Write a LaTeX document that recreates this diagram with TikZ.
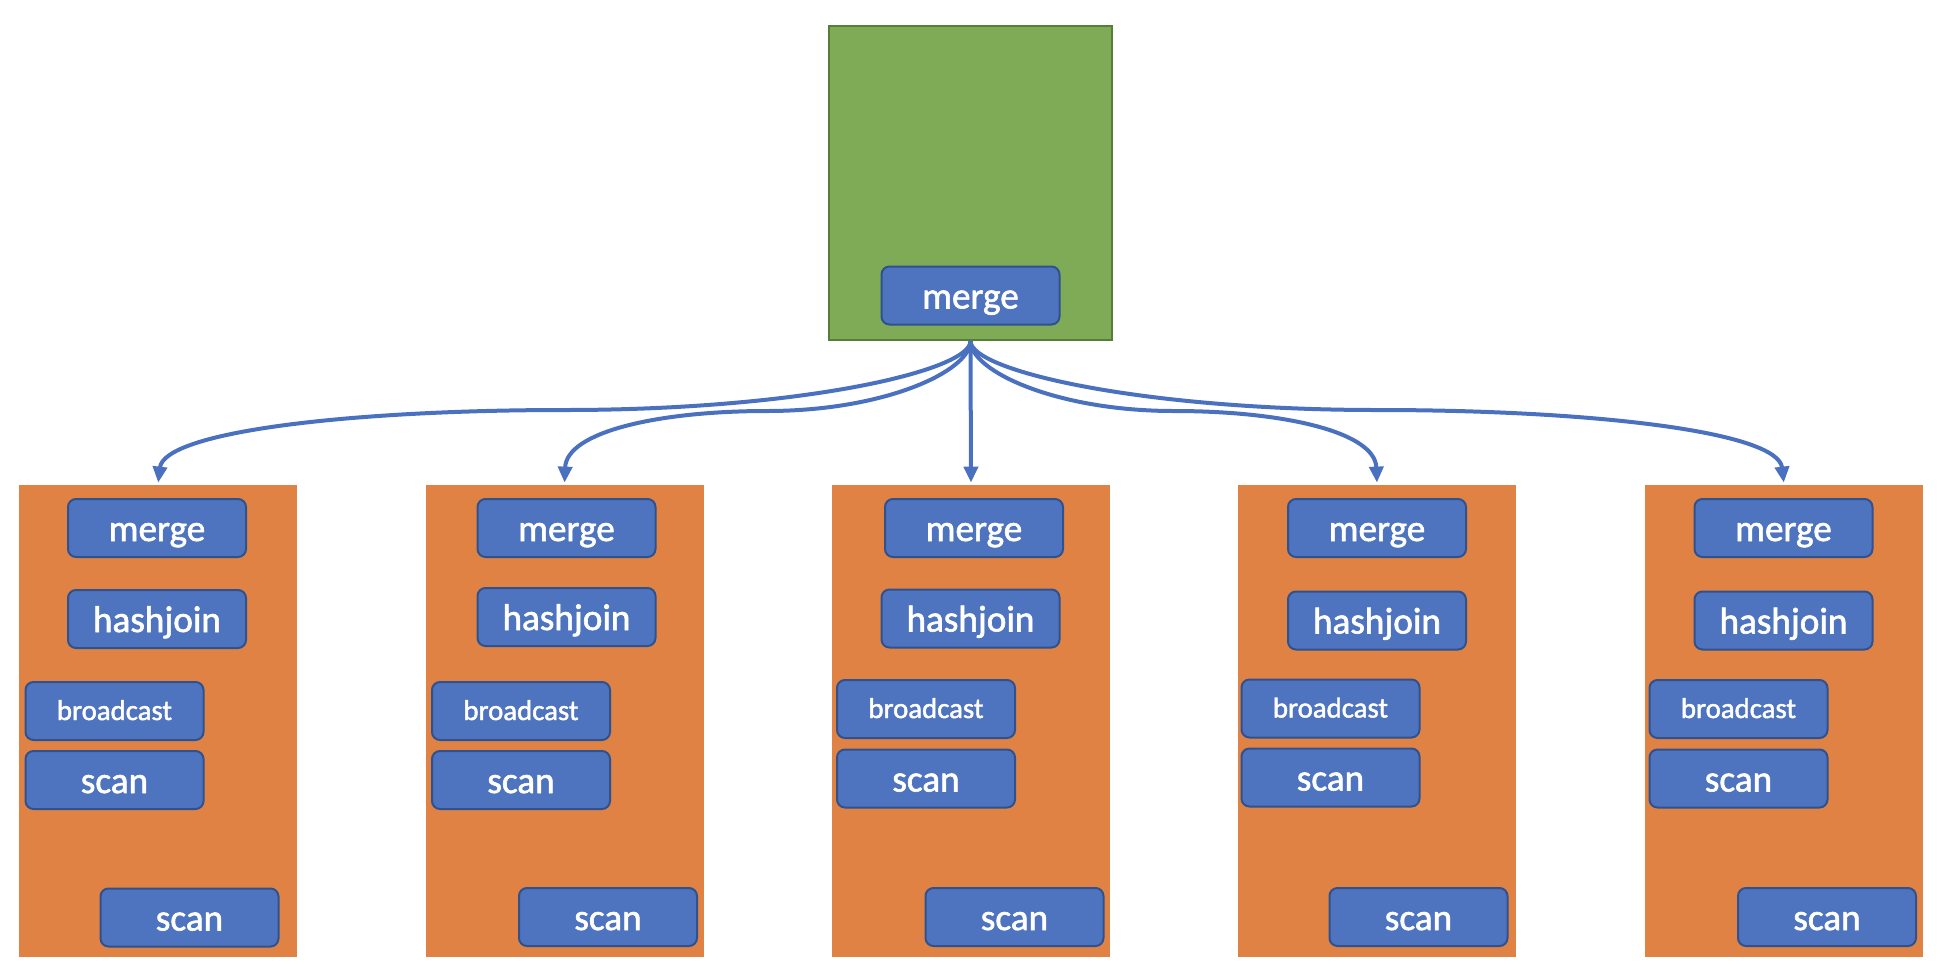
\documentclass[tikz,border=0pt]{standalone}
\usepackage{fontspec}
\setmainfont{Carlito}
\newfontfamily\opfont{Carlito}[FakeBold=1.6]
\usetikzlibrary{arrows.meta}
\definecolor{opblue}{HTML}{4F74BF}
\definecolor{opborder}{HTML}{2F528F}
\definecolor{workerfill}{HTML}{DF8244}
\definecolor{coordfill}{HTML}{7FAA56}
\definecolor{coordborder}{HTML}{557F36}
\definecolor{linkblue}{HTML}{4A70C0}
\begin{document}
\begin{tikzpicture}[x=0.5pt,y=-0.5pt,
  opbox/.style={draw=opborder, fill=opblue, line width=1pt, rounded corners=4pt,
    minimum width=89pt, minimum height=29pt, inner sep=0pt, text=white,
    font=\opfont\fontsize{18.6}{20}\selectfont, text height=16pt, text depth=3pt},
  smallop/.style={opbox, font=\opfont\fontsize{14.4}{16}\selectfont, text height=12pt, text depth=3pt},
  worker/.style={fill=workerfill, draw=none, minimum width=139pt, minimum height=236pt, inner sep=0pt},
  coordbox/.style={fill=coordfill, draw=coordborder, line width=1pt, minimum width=141.5pt, minimum height=157pt, inner sep=0pt},
  link/.style={draw=linkblue, line width=2pt, -{Triangle[length=8pt,width=7pt]}, shorten >=1pt}
]
\useasboundingbox (0,0) rectangle (1940,976);

% coordinator
\node[coordbox] (g) at (970.5,183) {};
\node[opbox] (gm) at (970.5,295.5) {merge};

% workers
\node[worker] (o1) at (158,721) {};
\node[worker] (o2) at (564.5,721) {};
\node[worker] (o3) at (971,721) {};
\node[worker] (o4) at (1377,721) {};
\node[worker] (o5) at (1784,721) {};

% worker 1
\node[opbox] (m1) at (157,528) {merge};
\node[opbox] (h1) at (157,619) {hashjoin};
\node[smallop] (b1) at (114.5,711) {broadcast};
\node[opbox] (s1) at (114.5,780) {scan};
\node[opbox] (t1) at (189.5,917.5) {scan};
% worker 2
\node[opbox] (m2) at (566.5,528) {merge};
\node[opbox] (h2) at (566.5,617) {hashjoin};
\node[smallop] (b2) at (521,711) {broadcast};
\node[opbox] (s2) at (521,780) {scan};
\node[opbox] (t2) at (608,917) {scan};
% worker 3
\node[opbox] (m3) at (974,528) {merge};
\node[opbox] (h3) at (970.5,618.5) {hashjoin};
\node[smallop] (b3) at (926,709) {broadcast};
\node[opbox] (s3) at (926,778.5) {scan};
\node[opbox] (t3) at (1014.5,917) {scan};
% worker 4
\node[opbox] (m4) at (1377,528) {merge};
\node[opbox] (h4) at (1377,620.5) {hashjoin};
\node[smallop] (b4) at (1330.5,708.5) {broadcast};
\node[opbox] (s4) at (1330.5,777.5) {scan};
\node[opbox] (t4) at (1418.5,917) {scan};
% worker 5
\node[opbox] (m5) at (1783.5,528) {merge};
\node[opbox] (h5) at (1783.5,620.5) {hashjoin};
\node[smallop] (b5) at (1738.5,709) {broadcast};
\node[opbox] (s5) at (1738.5,778.5) {scan};
\node[opbox] (t5) at (1827,917) {scan};

% arrows
\coordinate (c1) at (565,410);
\coordinate (c2) at (767,411);
\coordinate (c4) at (1174,411);
\coordinate (c5) at (1377,410);

\draw[link] (g.south) .. controls +(0,30) and +(235,0) .. (c1)
  .. controls +(-215,0) and +(6,-53) .. (o1.north);
\draw[link] (g.south) .. controls +(0,30) and +(118,0) .. (c2)
  .. controls +(-108,0) and +(2,-53) .. (o2.north);
\draw[link] (g.south) -- (o3.north);
\draw[link] (g.south) .. controls +(0,30) and +(-118,0) .. (c4)
  .. controls +(108,0) and +(-2,-53) .. (o4.north);
\draw[link] (g.south) .. controls +(0,30) and +(-235,0) .. (c5)
  .. controls +(215,0) and +(-6,-53) .. (o5.north);
\end{tikzpicture}
\end{document}
